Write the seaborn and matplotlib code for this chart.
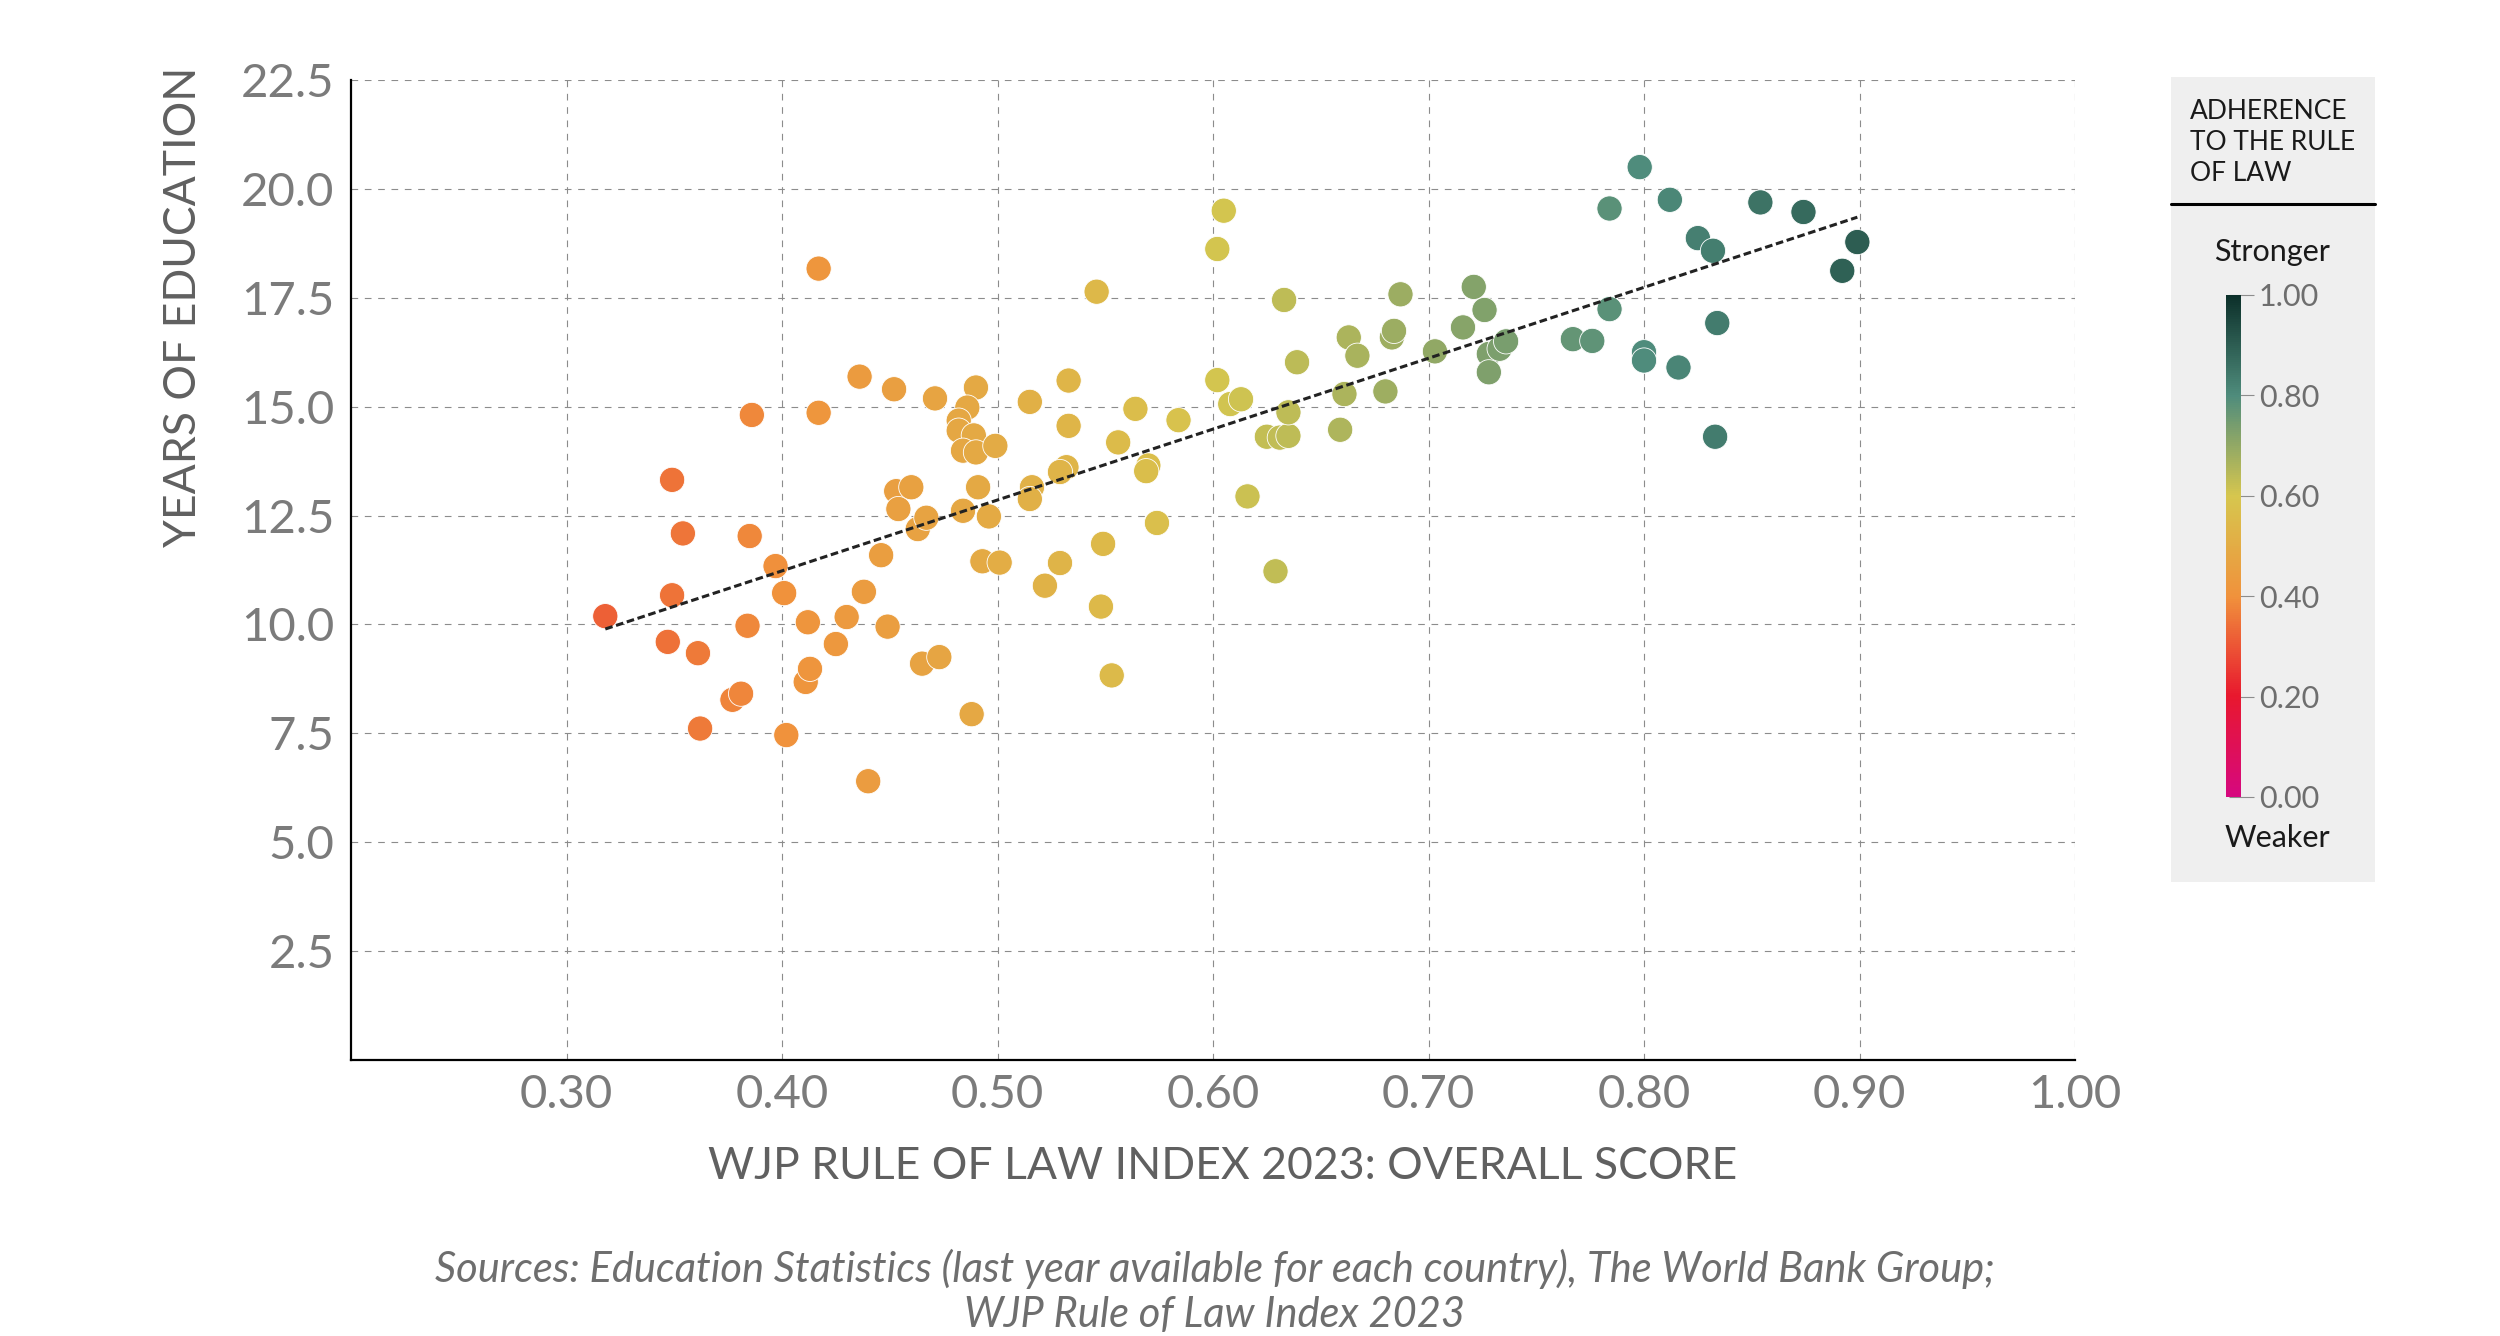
import numpy as np
import pandas as pd
import seaborn as sns
import matplotlib.pyplot as plt
from matplotlib.colors import LinearSegmentedColormap, Normalize
from matplotlib.cm import ScalarMappable
from matplotlib.patches import Rectangle
from matplotlib.lines import Line2D

# WJP overall score per country
score = [0.318, 0.349, 0.354, 0.349, 0.347, 0.361, 0.362, 0.377, 0.381, 0.386,
         0.385, 0.384, 0.397, 0.401, 0.402, 0.417, 0.417, 0.412, 0.411, 0.413,
         0.425, 0.430, 0.436, 0.438, 0.440, 0.446, 0.449, 0.452, 0.453, 0.454,
         0.460, 0.463, 0.467, 0.465, 0.473, 0.471, 0.490, 0.486, 0.482, 0.482,
         0.489, 0.484, 0.490, 0.499, 0.491, 0.484, 0.496, 0.493, 0.501, 0.488,
         0.515, 0.533, 0.533, 0.532, 0.529, 0.516, 0.515, 0.529, 0.522, 0.546,
         0.549, 0.548, 0.553, 0.556, 0.564, 0.570, 0.569, 0.574, 0.584, 0.605,
         0.602, 0.602, 0.608, 0.613, 0.616, 0.625, 0.631, 0.635, 0.635, 0.629,
         0.633, 0.639, 0.661, 0.659, 0.663, 0.667, 0.680, 0.683, 0.684, 0.687,
         0.703, 0.716, 0.721, 0.726, 0.728, 0.733, 0.736, 0.728, 0.767, 0.776,
         0.784, 0.784, 0.798, 0.800, 0.800, 0.812, 0.816, 0.825, 0.832, 0.834,
         0.833, 0.854, 0.874, 0.892, 0.899]
# years of education
years = [10.19, 13.32, 12.09, 10.67, 9.60, 9.34, 7.61, 8.27, 8.41, 14.81,
         12.03, 9.97, 11.34, 10.72, 7.46, 18.17, 14.86, 10.05, 8.68, 8.98,
         9.55, 10.17, 15.69, 10.75, 6.40, 11.59, 9.95, 15.40, 13.06, 12.65,
         13.15, 12.19, 12.45, 9.10, 9.25, 15.19, 15.44, 14.98, 14.68, 14.45,
         14.34, 13.99, 13.95, 14.10, 13.15, 12.61, 12.48, 11.45, 11.42, 7.94,
         15.11, 15.60, 14.56, 13.61, 13.50, 13.15, 12.88, 11.41, 10.89, 17.64,
         11.85, 10.41, 8.83, 14.18, 14.95, 13.65, 13.52, 12.33, 14.69, 19.50,
         18.62, 15.61, 15.06, 15.17, 12.94, 14.31, 14.29, 14.33, 14.87, 11.22,
         17.45, 16.02, 15.29, 14.47, 16.59, 16.17, 15.35, 16.59, 16.74, 17.58,
         16.27, 16.82, 17.75, 17.22, 16.21, 16.33, 16.50, 15.79, 16.55, 16.51,
         17.24, 19.55, 20.50, 16.25, 16.06, 19.75, 15.90, 18.87, 18.58, 16.92,
         14.31, 19.69, 19.47, 18.12, 18.78]

x_ticks = [0.3, 0.4, 0.5, 0.6, 0.7, 0.8, 0.9, 1.0]
y_ticks = [2.5, 5.0, 7.5, 10.0, 12.5, 15.0, 17.5, 20.0, 22.5]
cbar_ticks = [0.0, 0.2, 0.4, 0.6, 0.8, 1.0]

df = pd.DataFrame({'score': score, 'years': years})

sns.set_style('white')
plt.rcParams['font.family'] = ['Lato', 'DejaVu Sans']

# colour scale weak -> strong
cmap = LinearSegmentedColormap.from_list(
    'rol', list(zip([0.0, 0.2, 0.4, 0.6, 0.8, 1.0],
                    ['#d6087f', '#e8182e', '#f0923c', '#d6c64e', '#4f8c7c', '#0c302a'])))

fig = plt.figure(figsize=(25, 13.36), dpi=100)
ax = fig.add_axes([0.1404, 0.2066, 0.6896, 0.7335])

sns.scatterplot(data=df, x='score', y='years', hue='score', palette=cmap,
                hue_norm=(0, 1), s=330, edgecolor='white', linewidth=0.6,
                legend=False, ax=ax, zorder=3)
sns.regplot(data=df, x='score', y='years', scatter=False, ci=None, ax=ax,
            color='#222222', truncate=True,
            line_kws=dict(linestyle=(0, (2.5, 1.2)), linewidth=2.2, zorder=4))

ax.set_xlim(0.2, 1.0)
ax.set_ylim(0, 22.5)
ax.set_xticks(x_ticks)
ax.set_xticklabels([f'{v:.2f}' for v in x_ticks])
ax.set_yticks(y_ticks)
ax.set_yticklabels([f'{v:.1f}' for v in y_ticks])
ax.grid(True, linestyle=(0, (6, 6)), color='#8c8c8c', linewidth=0.8)
ax.tick_params(length=0, labelsize=34, labelcolor='#7b7b7b')
ax.tick_params(axis='x', pad=10)
ax.tick_params(axis='y', pad=12)
ax.set_xlabel('')
ax.set_ylabel('')
for s in ['top', 'right']:
    ax.spines[s].set_visible(False)
for s in ['left', 'bottom']:
    ax.spines[s].set_color('black')
    ax.spines[s].set_linewidth(1.6)

fig.text(0.489, 0.1265, 'WJP RULE OF LAW INDEX 2023: OVERALL SCORE',
         ha='center', va='center', fontsize=32, color='#606060')
fig.text(0.0733, 0.770, 'YEARS OF EDUCATION', rotation=90,
         ha='center', va='center', fontsize=32, color='#606060')
fig.text(0.486, 0.050,
         'Sources: Education Statistics (last year available for each country), The World Bank Group;',
         ha='center', va='center', fontsize=30, style='italic', color='#6e6e6e')
fig.text(0.486, 0.016, 'WJP Rule of Law Index 2023',
         ha='center', va='center', fontsize=30, style='italic', color='#6e6e6e')

# legend panel
fig.patches.append(Rectangle((0.8684, 0.3398), 0.0816, 0.6026,
                             transform=fig.transFigure, facecolor='#efefef',
                             edgecolor='none', zorder=-1))
fig.lines.append(Line2D([0.8684, 0.95], [0.8473, 0.8473], transform=fig.transFigure,
                        color='black', linewidth=2.2))
fig.text(0.876, 0.8937, 'ADHERENCE\nTO THE RULE\nOF LAW', ha='left', va='center',
         fontsize=19, linespacing=1.3, color='#1a1a1a')
fig.text(0.9088, 0.8114, 'Stronger', ha='center', va='center', fontsize=22,
         color='#1a1a1a')
fig.text(0.911, 0.3728, 'Weaker', ha='center', va='center', fontsize=22,
         color='#1a1a1a')

cax = fig.add_axes([2226 / 2500, 1 - 797 / 1336, 15 / 2500, 502 / 1336])
sm = ScalarMappable(norm=Normalize(0, 1), cmap=cmap)
cb = fig.colorbar(sm, cax=cax, ticks=cbar_ticks)
cb.outline.set_visible(False)
cb.ax.set_yticklabels([f'{v:.2f}' for v in cbar_ticks])
cb.ax.tick_params(direction='inout', length=18, width=0.8, color='#8c8c8c',
                  labelsize=22, labelcolor='#6e6e6e', pad=4)

fig.savefig('out.png', dpi=100)
